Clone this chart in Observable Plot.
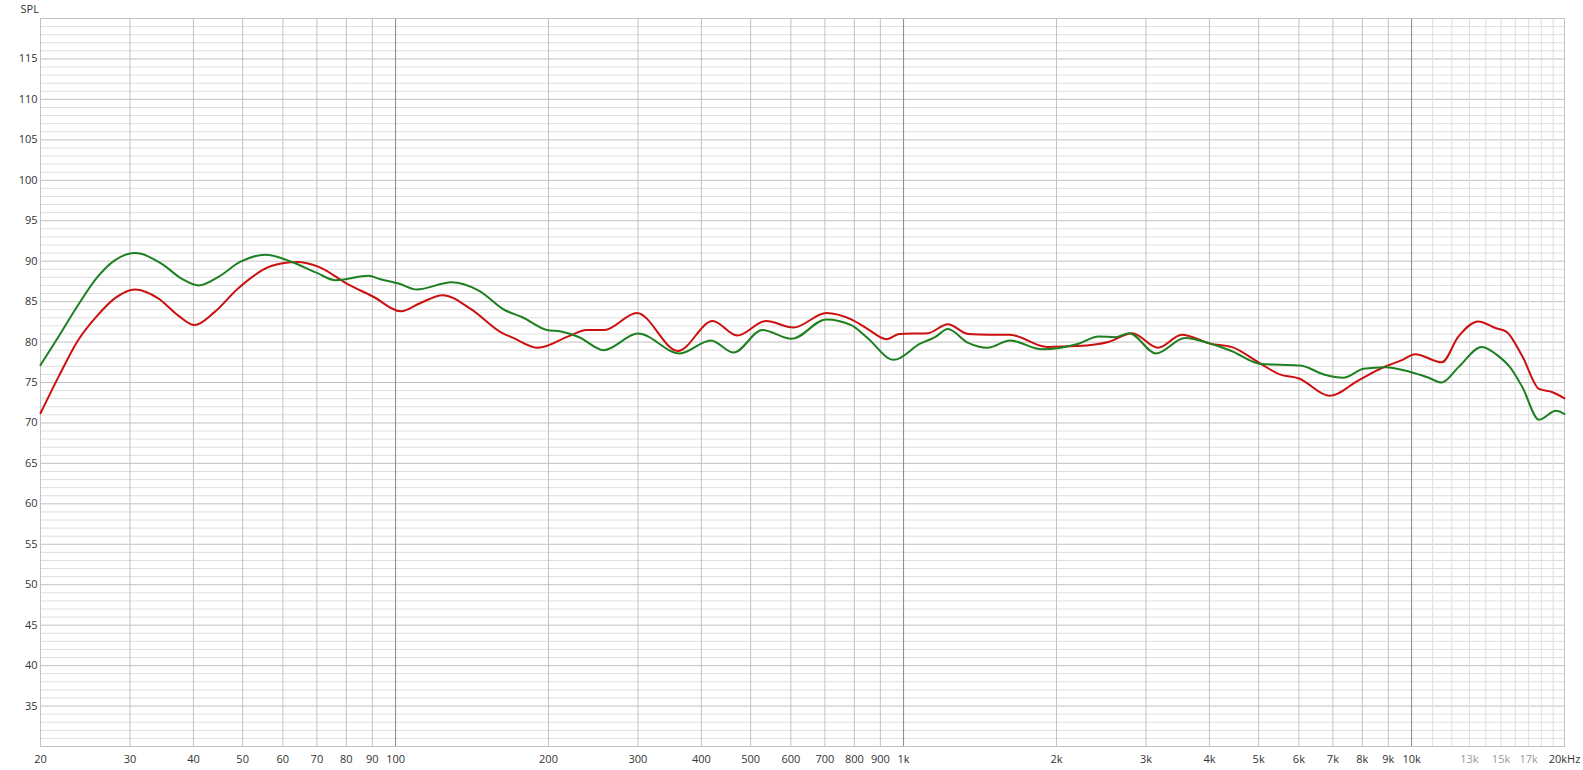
<!DOCTYPE html>
<html>
<head>
<meta charset="utf-8">
<script src="https://cdn.jsdelivr.net/npm/d3@7"></script>
<script src="https://cdn.jsdelivr.net/npm/@observablehq/plot@0.6"></script>
<style>
  html, body { margin: 0; padding: 0; background: #fff; }
  #chart svg { display: block; }
</style>
</head>
<body>
<div id="chart"></div>
<script>
// ---- Data ----
const greenFreq = [20, 21.7, 23.7, 25.9, 28.0, 30.7, 34.6, 37.9, 41.0, 44.8, 49.4, 55.4, 62.5, 70, 76.1, 88.5, 93, 101.8, 110.1, 128.9, 145.5, 164.6, 177.3, 198.4, 211.8, 229.8, 256.8, 300, 362.7, 417.4, 463, 527, 602, 704.6, 788.8, 846, 957, 1078, 1153, 1222, 1340, 1463, 1620, 1872, 2200, 2420, 2610, 2780, 3140, 3580, 4020, 4420, 5050, 5500, 6040, 6720, 7360, 8040, 8880, 9950, 10740, 11470, 12370, 13740, 14870, 15620, 16530, 17820, 19240, 20000];
const greenSpl  = [77.15, 80.65, 84.55, 88.05, 90.1, 91.0, 89.7, 87.85, 87.0, 88.05, 89.9, 90.8, 89.9, 88.55, 87.65, 88.2, 87.8, 87.2, 86.5, 87.4, 86.4, 83.9, 83.1, 81.5, 81.3, 80.6, 79.0, 81.05, 78.6, 80.2, 78.7, 81.5, 80.4, 82.8, 82.1, 80.6, 77.8, 79.8, 80.6, 81.6, 79.9, 79.3, 80.2, 79.1, 79.75, 80.7, 80.6, 81.1, 78.6, 80.5, 79.8, 78.9, 77.3, 77.2, 77.1, 76.0, 75.6, 76.7, 76.9, 76.3, 75.65, 75.0, 76.9, 79.4, 78.2, 76.9, 74.4, 70.4, 71.5, 71.1];

const redFreq = [20, 21.7, 23.7, 25.9, 28.0, 30.7, 34.1, 37.3, 40.2, 44.0, 48.9, 56.9, 63.9, 70.6, 80.3, 90.4, 102.5, 111.7, 123.8, 140.5, 162.3, 170, 190.6, 218.8, 237.5, 257.6, 298.5, 359.6, 421, 470.5, 536, 607, 704.6, 788.8, 846, 926, 980, 1116, 1222, 1340, 1474, 1620, 1917, 2200, 2530, 2820, 3170, 3530, 4020, 4420, 5050, 5500, 6000, 6900, 7880, 8780, 9600, 10160, 11470, 12370, 13530, 14680, 15360, 16530, 17820, 18940, 20000];
const redSpl  = [71.2, 75.7, 80.2, 83.3, 85.4, 86.5, 85.4, 83.3, 82.1, 83.7, 86.6, 89.4, 89.9, 89.3, 87.2, 85.6, 83.8, 84.8, 85.8, 84.1, 81.1, 80.55, 79.3, 80.7, 81.5, 81.5, 83.6, 78.9, 82.6, 80.8, 82.6, 81.8, 83.6, 82.8, 81.7, 80.35, 81.0, 81.1, 82.2, 81.0, 80.9, 80.9, 79.4, 79.5, 80.0, 81.1, 79.3, 80.9, 79.8, 79.4, 77.3, 76.0, 75.5, 73.35, 75.3, 76.85, 77.8, 78.5, 77.5, 80.7, 82.55, 81.7, 81.3, 78.2, 74.2, 73.8, 73.05];

// ---- Tick values ----
const xTicksDark = [20, 30, 40, 50, 60, 70, 80, 90, 100, 200, 300, 400, 500, 600, 700, 800, 900, 1000, 2000, 3000, 4000, 5000, 6000, 7000, 8000, 9000, 10000, 20000];
const xTicksGrey = [13000, 15000, 17000];
const yTicks = [35, 40, 45, 50, 55, 60, 65, 70, 75, 80, 85, 90, 95, 100, 105, 110, 115];

const gridMain = [30, 40, 50, 60, 70, 80, 90, 200, 300, 400, 500, 600, 700, 800, 900, 2000, 3000, 4000, 5000, 6000, 7000, 8000, 9000];
const gridDecade = [100, 1000, 10000];
const gridHigh = [11000, 12000, 13000, 14000, 15000, 16000, 17000, 18000, 19000];
const gridMinorY = d3.range(31, 120).filter(d => d % 5 !== 0);

const green = greenFreq.map((f, i) => ({f, v: greenSpl[i]}));
const red = redFreq.map((f, i) => ({f, v: redSpl[i]}));

const fmt = d => d === 20000 ? "20kHz" : d >= 1000 ? (d / 1000) + "k" : String(d);

const chart = Plot.plot({
  width: 1583,
  height: 770,
  marginLeft: 40,
  marginTop: 18,
  marginRight: 19,
  marginBottom: 24,
  style: {fontFamily: "'Open Sans', sans-serif", fontSize: "11px", color: "#333", background: "#fff"},
  x: {type: "log", domain: [20, 20000], axis: null},
  y: {domain: [30, 120]},
  marks: [
    Plot.ruleY(gridMinorY, {stroke: "#dedede", strokeWidth: 1}),
    Plot.ruleY(yTicks, {stroke: "#c2c2c2", strokeWidth: 1}),
    Plot.ruleX(gridHigh, {stroke: "#dedede", strokeWidth: 1}),
    Plot.ruleX(gridMain, {stroke: "#c2c2c2", strokeWidth: 1}),
    Plot.ruleX(gridDecade, {stroke: "#888", strokeWidth: 1}),
    Plot.frame({stroke: "#c2c2c2"}),
    Plot.axisY(yTicks, {tickSize: 0, tickPadding: 3, label: null, color: "#333", fontSize: 11}),
    Plot.text(xTicksDark, {x: d => d, text: fmt, frameAnchor: "bottom", lineAnchor: "top", dy: 9, fill: "#333", fontSize: 11}),
    Plot.text(xTicksGrey, {x: d => d, text: fmt, frameAnchor: "bottom", lineAnchor: "top", dy: 9, fill: "#999", fontSize: 11}),
    Plot.text(["SPL"], {frameAnchor: "top-left", dx: -20, dy: -9, textAnchor: "start", lineAnchor: "middle", fill: "#333", fontSize: 11}),
    Plot.line(red, {x: "f", y: "v", stroke: "#cc1010", strokeWidth: 2, curve: "monotone-x"}),
    Plot.line(green, {x: "f", y: "v", stroke: "#1e8020", strokeWidth: 2, curve: "monotone-x"})
  ]
});
document.getElementById("chart").appendChild(chart);
</script>
</body>
</html>
